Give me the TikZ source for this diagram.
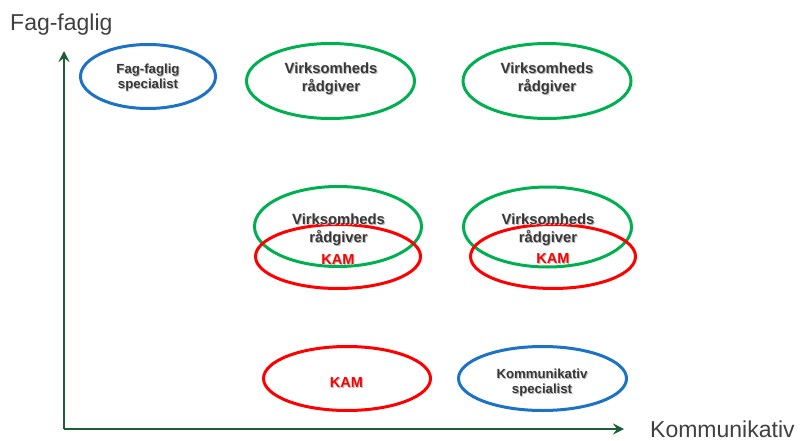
\documentclass[tikz,border=0pt]{standalone}
\usepackage{fontspec}
\setmainfont{Liberation Sans}
\usetikzlibrary{shapes.geometric,arrows.meta}

\definecolor{axisgreen}{HTML}{1C5E35}
\definecolor{ovalgreen}{HTML}{00B050}
\definecolor{ovalred}{HTML}{FF0000}
\definecolor{ovalblue}{HTML}{1C72C4}
\definecolor{textgray}{HTML}{383838}
\definecolor{labelgray}{HTML}{404040}

% text with a soft offset shadow
\newcommand{\shd}[1]{\leavevmode\rlap{\kern0.9pt\raisebox{-1pt}{\color{black!28}#1}}#1}

\begin{document}
\begin{tikzpicture}[x=1pt,y=-1pt,
  oval/.style={ellipse, draw, line width=3pt, inner sep=0pt, outer sep=0pt},
  role/.style={font=\bfseries\fontsize{14.8}{18.4}\selectfont, text=textgray, align=center, inner sep=0pt},
  smallrole/.style={font=\bfseries\fontsize{13.2}{15}\selectfont, text=textgray, align=center, inner sep=0pt},
  kam/.style={font=\bfseries\fontsize{14.5}{17}\selectfont, text=ovalred, inner sep=0pt, anchor=base},
  axislabel/.style={font=\fontsize{23}{27}\selectfont, text=labelgray, inner sep=0pt, anchor=base west},
  axis/.style={draw=axisgreen, line width=2.8pt, -{Stealth[length=11pt,width=11pt,inset=4pt]}}]

\useasboundingbox (0,0) rectangle (803,441);

% axes
\coordinate (origin) at (64,429);
\coordinate (ytip) at (64,51);
\coordinate (xtip) at (624,429);
\draw[axis] (origin) -- (ytip);
\draw[axis] (origin) -- (xtip);
\node[axislabel] (ylabel) at (10,31) {Fag-faglig};
\node[axislabel] (xlabel) at (650,437) {Kommunikativ};

% top row
\node[oval, draw=ovalblue, minimum width=135, minimum height=64] (specF) at (148,76.5) {};
\node[oval, draw=ovalgreen, minimum width=168, minimum height=75] (vrTopL) at (330.5,81) {};
\node[oval, draw=ovalgreen, minimum width=168, minimum height=75] (vrTopR) at (547,81) {};
\node[smallrole] (tSpecF) at (148,78.5) {\shd{Fag-faglig}\\\shd{specialist}};
\node[role] (tTopL) at (331,79) {\shd{Virksomheds}\\\shd{rådgiver}};
\node[role] (tTopR) at (547,79) {\shd{Virksomheds}\\\shd{rådgiver}};

% middle row: advisor overlapping KAM
\node[oval, draw=ovalgreen, minimum width=167, minimum height=80] (vrMidL) at (338,226.5) {};
\node[oval, draw=ovalgreen, minimum width=168, minimum height=80] (vrMidR) at (547.5,227) {};
\node[oval, draw=ovalred, minimum width=165, minimum height=64] (kamMidL) at (338,256.5) {};
\node[oval, draw=ovalred, minimum width=165, minimum height=64] (kamMidR) at (553,256.5) {};
\node[role] (tMidL) at (338.5,230) {\shd{Virksomheds}\\\shd{rådgiver}};
\node[role] (tMidR) at (548,230) {\shd{Virksomheds}\\\shd{rådgiver}};
\node[kam] (tKamL) at (338,264) {\shd{KAM}};
\node[kam] (tKamR) at (553,263) {\shd{KAM}};

% bottom row
\node[oval, draw=ovalred, minimum width=167, minimum height=64] (kamLow) at (347,378.5) {};
\node[oval, draw=ovalblue, minimum width=168, minimum height=64] (specK) at (542.5,378.5) {};
\node[kam] (tKamLow) at (346.5,387) {\shd{KAM}};
\node[smallrole] (tSpecK) at (542,383) {\shd{Kommunikativ}\\\shd{specialist}};

\end{tikzpicture}
\end{document}
